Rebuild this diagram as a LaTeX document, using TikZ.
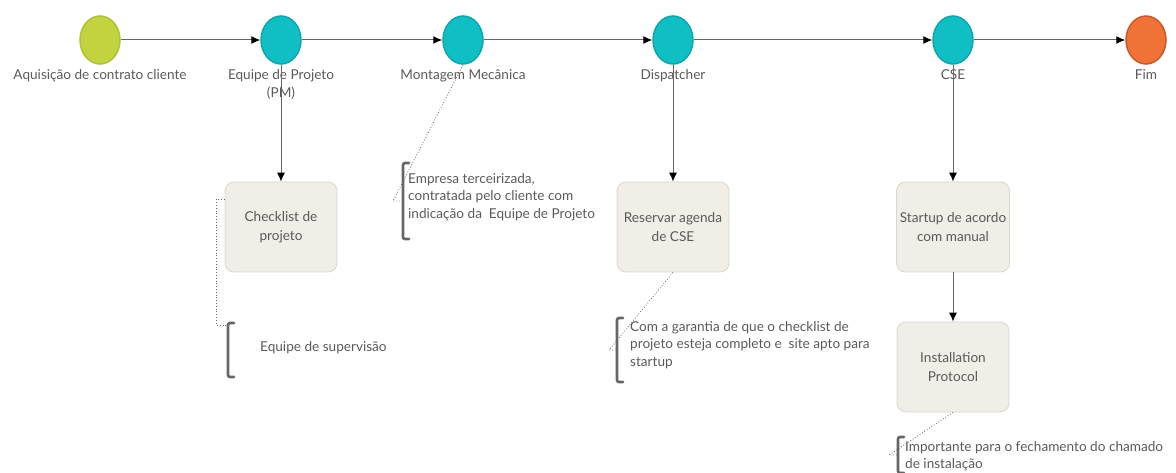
\documentclass[tikz,border=0pt]{standalone}
\usepackage{fontspec}
\setmainfont{Lato}
\usetikzlibrary{positioning,arrows.meta,shapes.geometric}
\definecolor{lime}{HTML}{C3D33F}
\definecolor{limeb}{HTML}{AFC03A}
\definecolor{teal}{HTML}{10BFC4}
\definecolor{tealb}{HTML}{0FA6AB}
\definecolor{orng}{HTML}{F07236}
\definecolor{orngb}{HTML}{C65A2A}
\definecolor{boxfill}{HTML}{F0EEE6}
\definecolor{boxline}{HTML}{DAD7CB}
\definecolor{txt}{HTML}{5A5A5A}
\definecolor{wire}{HTML}{666666}
\begin{document}
\begin{tikzpicture}[x=1pt,y=-1pt,
    ev/.style={ellipse,minimum width=40pt,minimum height=48pt,inner sep=0pt,line width=1.5pt},
    task/.style={draw=boxline,fill=boxfill,rounded corners=9pt,minimum width=112pt,minimum height=90pt,
        align=center,text=txt,font=\fontsize{13.6}{19}\selectfont,line width=0.8pt},
    evlabel/.style={text=txt,font=\fontsize{13.6}{18}\selectfont,align=center,inner sep=1pt},
    note/.style={text=txt,font=\fontsize{13.6}{17.5}\selectfont,align=left,inner sep=0pt,anchor=north west},
    flow/.style={draw=wire,line width=1pt,-{Latex[length=9pt,width=8pt,black]}},
    link/.style={draw=wire,dotted,line width=0.8pt},
    brak/.style={draw=wire,line width=2.6pt,rounded corners=2pt,line cap=round}]
    \useasboundingbox (0,0) rectangle (1176,473);
    % eventos
    \node[ev,fill=lime,draw=limeb] (aquis) at (100,40) {};
    \node[ev,fill=teal,draw=tealb] (equipe) at (281,40) {};
    \node[ev,fill=teal,draw=tealb] (montagem) at (463,40) {};
    \node[ev,fill=teal,draw=tealb] (dispatcher) at (673,40) {};
    \node[ev,fill=teal,draw=tealb] (cse) at (953,40) {};
    \node[ev,fill=orng,draw=orngb] (fim) at (1146,40) {};
    \node[evlabel,below=4pt of aquis] (laquis) {Aquisição de contrato cliente};
    \node[evlabel,below=4pt of equipe] (lequipe) {Equipe de Projeto\\(PM)};
    \node[evlabel,below=4pt of montagem] (lmontagem) {Montagem Mecânica};
    \node[evlabel,below=4pt of dispatcher] (ldispatcher) {Dispatcher};
    \node[evlabel,below=4pt of cse] (lcse) {CSE};
    \node[evlabel,below=4pt of fim] (lfim) {Fim};
    % tarefas
    \node[task] (checklist) at (281,227) {Checklist de\\projeto};
    \node[task] (reservar) at (673,227) {Reservar agenda\\de CSE};
    \node[task] (startup) at (953,227) {Startup de acordo\\com manual};
    \node[task] (install) at (953,367) {Installation\\Protocol};
    % fluxo
    \draw[flow] (aquis) -- (equipe);
    \draw[flow] (equipe) -- (montagem);
    \draw[flow] (montagem) -- (dispatcher);
    \draw[flow] (dispatcher) -- (cse);
    \draw[flow] (cse) -- (fim);
    \draw[flow] (equipe) -- (checklist);
    \draw[flow] (dispatcher) -- (reservar);
    \draw[flow] (cse) -- (startup);
    \draw[flow] (startup) -- (install);
    % anotacoes
    \node[note] (nsuperv) at (260,341) {Equipe de supervisão};
    \node[note] (nempresa) at (408,173) {Empresa terceirizada,\\contratada pelo cliente com\\indicação da\ \ Equipe de Projeto};
    \node[note] (ngarantia) at (630,321) {Com a garantia de que o checklist de\\projeto esteja completo e\ \ site apto para\\startup};
    \node[note] (nimport) at (905,441) {Importante para o fechamento do chamado\\de instalação};
    \coordinate (bsuperv) at (228,350);
    \coordinate (bempresa) at (403,201);
    \coordinate (bgarantia) at (617,350);
    \coordinate (bimport) at (898,455);
    \draw[brak] ([xshift=6pt,yshift=27pt]bsuperv) -- ([yshift=27pt]bsuperv) -- ([yshift=-27pt]bsuperv) -- ([xshift=6pt,yshift=-27pt]bsuperv);
    \draw[brak] ([xshift=6pt,yshift=38pt]bempresa) -- ([yshift=38pt]bempresa) -- ([yshift=-38pt]bempresa) -- ([xshift=6pt,yshift=-38pt]bempresa);
    \draw[brak] ([xshift=6pt,yshift=32pt]bgarantia) -- ([yshift=32pt]bgarantia) -- ([yshift=-32pt]bgarantia) -- ([xshift=6pt,yshift=-32pt]bgarantia);
    \draw[brak] ([xshift=6pt,yshift=18pt]bimport) -- ([yshift=18pt]bimport) -- ([yshift=-18pt]bimport) -- ([xshift=6pt,yshift=-18pt]bimport);
    \draw[link] ([yshift=28pt]checklist.west) -- ++(-8,0) |- ([yshift=25pt]bsuperv);
    \draw[link] (montagem.south) -- ([xshift=-10pt]bempresa) -- (bempresa);
    \draw[link] (reservar.south) -- ([xshift=-8pt]bgarantia) -- (bgarantia);
    \draw[link] (install.south) -- ([xshift=-9pt]bimport) -- (bimport);
\end{tikzpicture}
\end{document}
